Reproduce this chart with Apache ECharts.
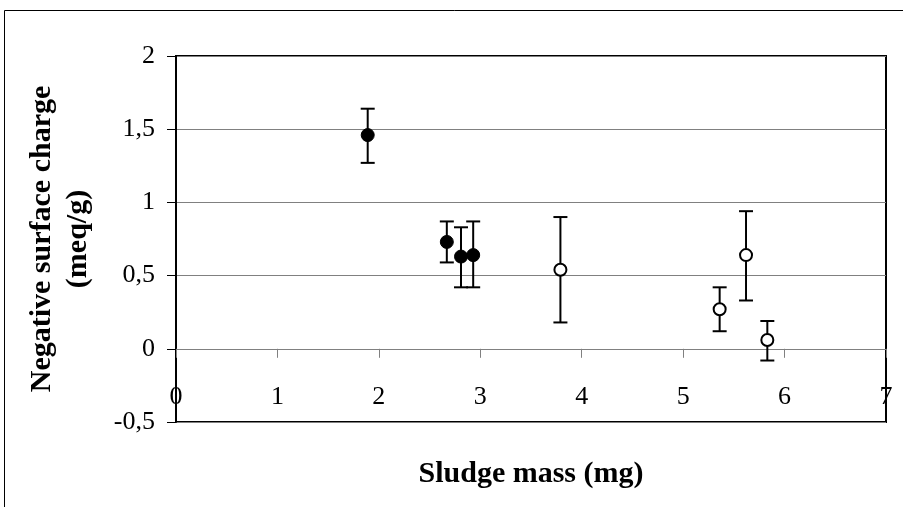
<!DOCTYPE html>
<html>
<head>
<meta charset="utf-8">
<script src="https://cdn.jsdelivr.net/npm/echarts@6/dist/echarts.min.js"></script>
<style>
html,body{margin:0;padding:0;background:#fff;}
#chart{width:903px;height:507px;}
</style>
</head>
<body>
<div id="chart"></div>
<script>
// Data
var filledX    = [1.89, 2.67, 2.81, 2.93];
var filledY    = [1.46, 0.73, 0.63, 0.64];
var filledLow  = [1.27, 0.59, 0.42, 0.42];
var filledHigh = [1.64, 0.87, 0.83, 0.87];

var openX    = [3.79, 5.36, 5.62, 5.83];
var openY    = [0.54, 0.27, 0.64, 0.06];
var openLow  = [0.18, 0.12, 0.33, -0.08];
var openHigh = [0.90, 0.42, 0.94, 0.19];

var xTicks = [0, 1, 2, 3, 4, 5, 6, 7];
var yTicks = [-0.5, 0, 0.5, 1, 1.5, 2];

var xTitle = 'Sludge mass (mg)';
var yTitle = 'Negative surface charge\n(meq/g)';

var FONT = '"Liberation Serif", "Times New Roman", serif';

function pts(xs, ys) { return xs.map(function (x, i) { return [x, ys[i]]; }); }
function errs(xs, lo, hi) { return xs.map(function (x, i) { return [x, lo[i], hi[i]]; }); }

function renderErr(params, api) {
  var x = api.value(0);
  var pLo = api.coord([x, api.value(1)]);
  var pHi = api.coord([x, api.value(2)]);
  var hw = 7;
  var st = { stroke: '#000', lineWidth: 2 };
  return {
    type: 'group',
    children: [
      { type: 'line', shape: { x1: pLo[0], y1: pLo[1], x2: pHi[0], y2: pHi[1] }, style: st },
      { type: 'line', shape: { x1: pLo[0] - hw, y1: pLo[1], x2: pLo[0] + hw, y2: pLo[1] }, style: st },
      { type: 'line', shape: { x1: pHi[0] - hw, y1: pHi[1], x2: pHi[0] + hw, y2: pHi[1] }, style: st }
    ]
  };
}

var chart = echarts.init(document.getElementById('chart'), null, { renderer: 'canvas' });
chart.setOption({
  animation: false,
  backgroundColor: '#fff',
  grid: {
    left: 176, top: 56, right: 17, bottom: 85,
    outerBoundsMode: 'none', containLabel: false,
    show: true, borderColor: '#000', borderWidth: 2, backgroundColor: 'transparent'
  },
  xAxis: {
    type: 'value',
    min: xTicks[0], max: xTicks[xTicks.length - 1], interval: 1,
    axisLine: { onZero: true, lineStyle: { color: '#808080', width: 1 } },
    axisTick: { show: true, inside: false, length: 9, lineStyle: { color: '#808080', width: 1 } },
    splitLine: { show: false },
    axisLabel: {
      margin: -38, color: '#000', fontFamily: FONT, fontSize: 26,
      showMinLabel: true, showMaxLabel: true, hideOverlap: false
    }
  },
  yAxis: {
    type: 'value',
    min: yTicks[0], max: yTicks[yTicks.length - 1], interval: 0.5,
    axisLine: { show: true, onZero: false, lineStyle: { color: '#000', width: 2 } },
    axisTick: { show: true, inside: false, length: 9, lineStyle: { color: '#000', width: 1 } },
    splitLine: { show: true, lineStyle: { color: '#808080', width: 1 } },
    axisLabel: {
      margin: 21, color: '#000', fontFamily: FONT, fontSize: 26,
      formatter: function (v) { return String(v).replace('.', ','); }
    },
    name: yTitle,
    nameLocation: 'middle',
    nameRotate: 90,
    nameGap: 80,
    nameTextStyle: { color: '#000', fontFamily: FONT, fontSize: 30, fontWeight: 'bold', lineHeight: 36, align: 'center' }
  },
  graphic: [
    { type: 'rect', shape: { x: 4.5, y: 10.5, width: 910, height: 510 }, style: { fill: 'none', stroke: '#000', lineWidth: 1 }, z: -1, silent: true },
    { type: 'text', x: 531, y: 474, style: { text: xTitle, fill: '#000', font: 'bold 30px ' + FONT, textAlign: 'center', textVerticalAlign: 'middle' } }
  ],
  series: [
    { type: 'custom', renderItem: renderErr, data: errs(filledX, filledLow, filledHigh), z: 3, silent: true },
    { type: 'custom', renderItem: renderErr, data: errs(openX, openLow, openHigh), z: 3, silent: true },
    { type: 'scatter', data: pts(filledX, filledY), symbol: 'circle', symbolSize: 13,
      itemStyle: { color: '#000', borderColor: '#000', borderWidth: 1, opacity: 1 }, z: 5 },
    { type: 'scatter', data: pts(openX, openY), symbol: 'circle', symbolSize: 12,
      itemStyle: { color: '#fff', borderColor: '#000', borderWidth: 2, opacity: 1 }, z: 5 }
  ]
});
</script>
</body>
</html>
